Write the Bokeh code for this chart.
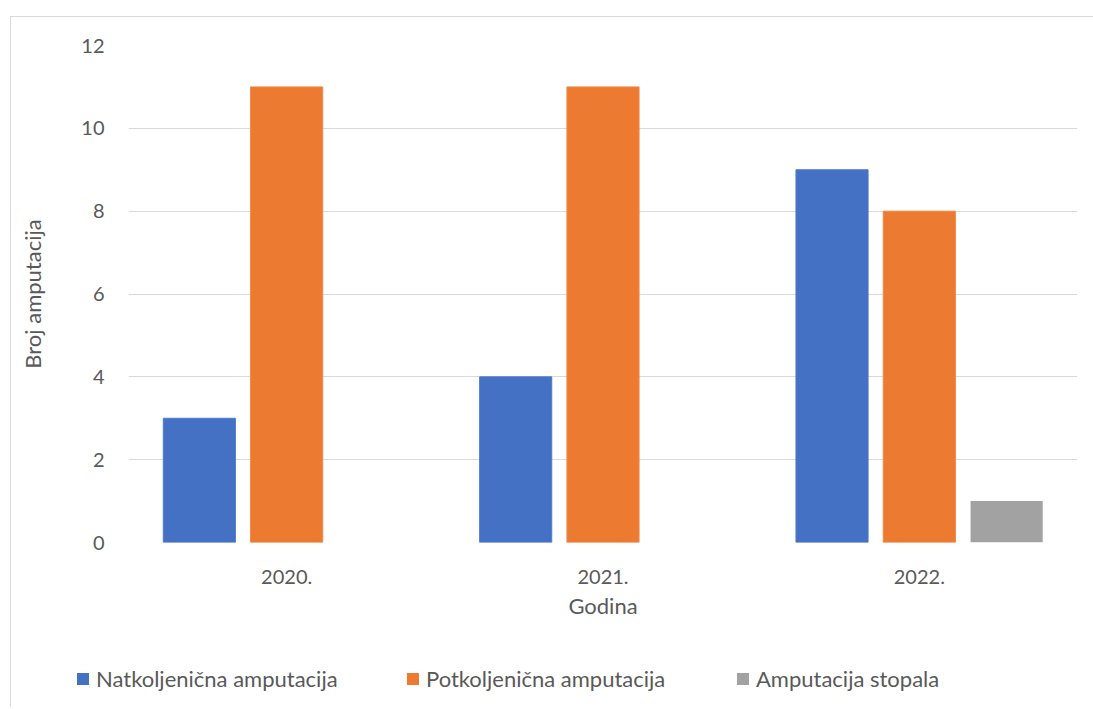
from bokeh.plotting import figure
from bokeh.layouts import column
from bokeh.models import FactorRange, Range1d, ColumnDataSource, Legend, LegendItem, FixedTicker
from bokeh.transform import dodge
from bokeh.embed import file_html
from bokeh.resources import INLINE

# ---- data ----
years = ["2020.", "2021.", "2022."]
natkoljenicna = [3, 4, 9]
potkoljenicna = [11, 11, 8]
stopala = [0, 0, 1]
series_names = ["Natkoljenična amputacija", "Potkoljenična amputacija", "Amputacija stopala"]
series_colors = ["#4471C3", "#EC7B31", "#A2A2A2"]
y_ticks = [0, 2, 4, 6, 8, 10, 12]

FONT = "Lato"
TXT = "#595959"
W = 1082

src = ColumnDataSource(dict(year=years, a=natkoljenicna, b=potkoljenicna, c=stopala))

p = figure(
    x_range=FactorRange(*years, range_padding=0),
    y_range=Range1d(0, 12),
    width=W, height=623,
    output_backend="svg", toolbar_location=None,
    min_border_left=117, min_border_right=16, min_border_top=28, min_border_bottom=98,
    background_fill_color="white", border_fill_color="white",
    outline_line_color=None,
)

bw = 0.228
off = 0.276
line_cols = ["#4F7BCB", "#EE8745", None]
cols = ["a", "b", "c"]
offsets = [-off, 0, off]
for c, o, fc, lc in zip(cols, offsets, series_colors, line_cols):
    p.vbar(x=dodge("year", o, range=p.x_range), top=c, width=bw, source=src,
           fill_color=fc, line_color=lc, line_width=1)

# axes
p.yaxis.ticker = FixedTicker(ticks=y_ticks)
p.yaxis.axis_label = "Broj amputacija"
p.xaxis.axis_label = "Godina"
for ax in (p.xaxis[0], p.yaxis[0]):
    ax.axis_line_color = None
    ax.major_tick_line_color = None
    ax.minor_tick_line_color = None
    ax.major_tick_out = 0
    ax.major_tick_in = 0
    ax.minor_tick_out = 0
    ax.major_label_text_font = FONT
    ax.major_label_text_font_size = "20px"
    ax.major_label_text_color = TXT
    ax.axis_label_text_font = FONT
    ax.axis_label_text_font_size = "22px"
    ax.axis_label_text_font_style = "normal"
    ax.axis_label_text_color = TXT
p.yaxis.major_label_standoff = 24
p.yaxis.axis_label_standoff = 32
p.xaxis.major_label_standoff = 27
p.xaxis.axis_label_standoff = 5

p.xgrid.grid_line_color = None
p.ygrid.grid_line_color = "#d9d9d9"
p.ygrid.grid_line_width = 1

# ---- legend strip (same data, bars kept out of its view) ----
lg = figure(
    width=W, height=67, x_range=p.x_range, y_range=Range1d(100, 101),
    x_axis_type=None, y_axis_type=None,
    output_backend="svg", toolbar_location=None,
    min_border=0, min_border_left=0, min_border_right=0, min_border_top=0, min_border_bottom=0,
    outline_line_color=None, background_fill_color="white", border_fill_color="white",
)
lg.frame_align = False
lg.xgrid.visible = False
lg.ygrid.visible = False
lrs = [lg.vbar(x=dodge("year", o, range=p.x_range), top=c, width=bw, source=src,
               fill_color=fc, line_color=None)
       for c, o, fc in zip(cols, offsets, series_colors)]

legend = Legend(
    items=[LegendItem(label=n, renderers=[r]) for n, r in zip(series_names, lrs)],
    orientation="horizontal",
    location=(64, 15),
    glyph_width=15, glyph_height=15, label_standoff=6,
    label_width=299, spacing=10, padding=0, margin=0,
    border_line_color=None, background_fill_alpha=0,
    label_text_font=FONT, label_text_font_size="22px", label_text_color=TXT,
)
lg.add_layout(legend, "center")

layout = column(p, lg, spacing=0,
                styles={"margin-left": "10px", "margin-top": "16px",
                        "border-left": "1px solid #d9d9d9", "border-top": "1px solid #d9d9d9"})

open("out.html", "w").write(file_html(layout, INLINE))
